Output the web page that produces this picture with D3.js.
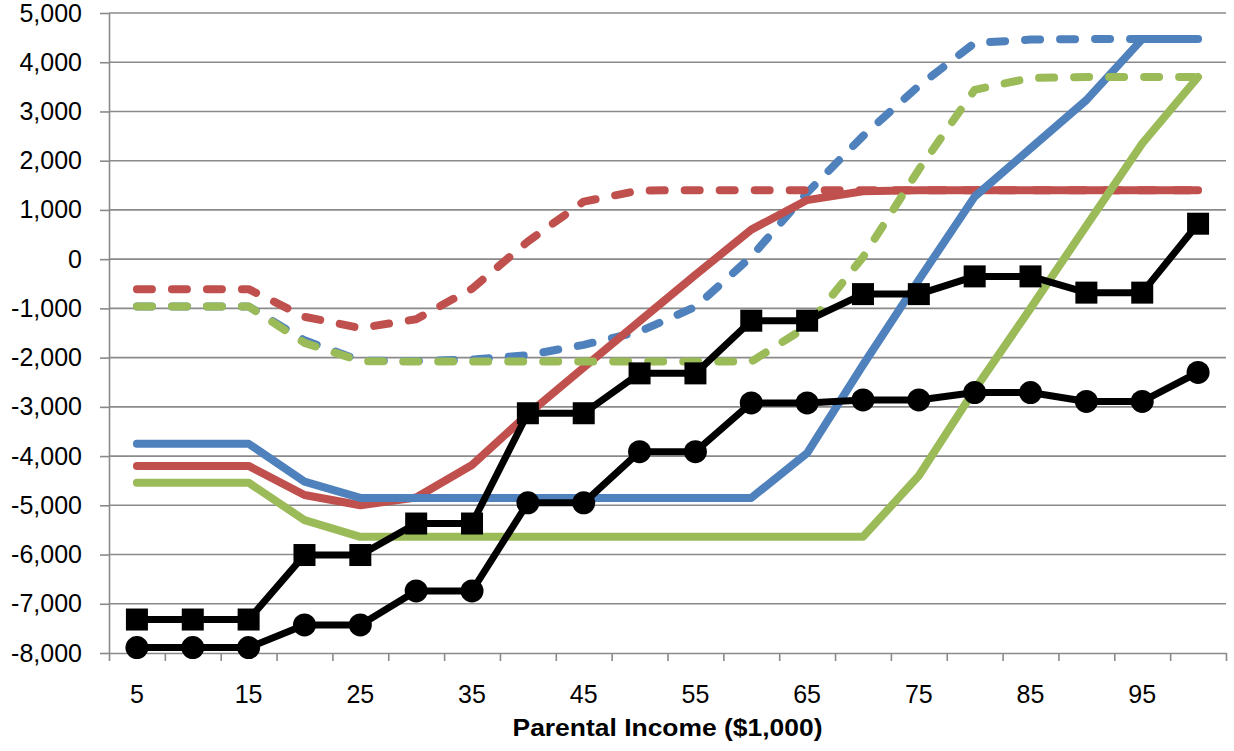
<!DOCTYPE html>
<html>
<head>
<meta charset="utf-8">
<script src="https://cdn.jsdelivr.net/npm/d3@7"></script>
<style>
    body { margin: 0; background: #fff; }
    #chart text { font-family: "Liberation Sans", Arial, sans-serif; fill: #000; }
</style>
</head>
<body>
<div id="chart"></div>
<script>
// parental income categories ($1,000)
var incomes = [5, 10, 15, 20, 25, 30, 35, 40, 45, 50, 55, 60, 65, 70, 75, 80, 85, 90, 95, 100];
var xTickLabels = [5, 15, 25, 35, 45, 55, 65, 75, 85, 95];
var yTickValues = [-8000, -7000, -6000, -5000, -4000, -3000, -2000, -1000, 0, 1000, 2000, 3000, 4000, 5000];

// series values
var blueSolid   = [-3750, -3750, -3750, -4520, -4850, -4850, -4850, -4850, -4850, -4850, -4850, -4850, -3940, -2150, -420, 1270, 2250, 3230, 4470, 4470];
var redSolid    = [-4200, -4200, -4200, -4790, -5000, -4840, -4180, -3150, -2200, -1260, -320, 600, 1200, 1380, 1400, 1400, 1400, 1400, 1400, 1400];
var greenSolid  = [-4540, -4540, -4540, -5300, -5640, -5640, -5640, -5640, -5640, -5640, -5640, -5640, -5640, -5640, -4400, -2650, -1000, 680, 2350, 3700];
var blueDashed  = [-960, -960, -960, -1650, -2060, -2070, -2040, -1950, -1740, -1470, -970, 50, 1350, 2500, 3520, 4390, 4460, 4470, 4470, 4470];
var redDashed   = [-610, -610, -610, -1170, -1400, -1220, -600, 360, 1170, 1395, 1400, 1400, 1400, 1400, 1400, 1400, 1400, 1400, 1400, 1400];
var greenDashed = [-960, -960, -960, -1700, -2070, -2080, -2080, -2080, -2080, -2080, -2080, -2080, -1370, 40, 1820, 3440, 3680, 3700, 3700, 3700];
var squareSeries = [-7320, -7320, -7320, -6010, -6010, -5370, -5370, -3130, -3130, -2320, -2320, -1250, -1250, -710, -710, -350, -350, -680, -680, 720];
var circleSeries = [-7890, -7890, -7890, -7430, -7430, -6740, -6740, -4950, -4950, -3910, -3910, -2920, -2920, -2860, -2860, -2710, -2710, -2890, -2890, -2300];

var W = 1234, H = 751;
var margin = { top: 13, right: 8, bottom: 98, left: 109 },
    width = W - margin.left - margin.right,
    height = H - margin.top - margin.bottom;

var svg = d3.select("#chart")
    .append("svg")
    .attr("width", W)
    .attr("height", H)
    .append("g")
    .attr("transform", "translate(" + margin.left + "," + margin.top + ")");

var xScale = d3.scaleBand()
    .domain(incomes)
    .range([0, width]);

var xEdges = d3.scaleLinear()
    .domain([0, incomes.length])
    .range([0, width]);

var yScale = d3.scaleLinear()
    .domain([-8000, 5000])
    .range([height, 0]);

var fmt = d3.formatLocale({ decimal: ".", thousands: ",", grouping: [3], currency: ["$", ""], minus: "-" }).format(",");

// gridlines
svg.append("g")
    .attr("class", "grid")
    .selectAll("line")
    .data(yTickValues.filter(function (d) { return d != -8000; }))
    .enter()
    .append("line")
    .attr("x1", 0)
    .attr("x2", width)
    .attr("y1", function (d) { return yScale(d); })
    .attr("y2", function (d) { return yScale(d); })
    .attr("stroke", "#8a8a8a")
    .attr("stroke-width", 1.6);

// y axis
var yAxis = svg.append("g")
    .attr("class", "y axis")
    .call(d3.axisLeft(yScale)
        .tickValues(yTickValues)
        .tickFormat(fmt)
        .tickSize(9)
        .tickSizeOuter(0)
        .tickPadding(18));

// x axis tick marks at category edges
var xAxis = svg.append("g")
    .attr("class", "x axis")
    .attr("transform", "translate(0," + height + ")")
    .call(d3.axisBottom(xEdges)
        .tickValues(d3.range(incomes.length + 1))
        .tickFormat("")
        .tickSize(8)
        .tickSizeOuter(0));

// x labels at category centres
svg.append("g")
    .attr("class", "x labels")
    .attr("transform", "translate(0," + height + ")")
    .call(d3.axisBottom(xScale)
        .tickValues(xTickLabels)
        .tickSize(0)
        .tickPadding(32))
    .call(function (g) { g.select(".domain").remove(); });

svg.selectAll(".axis path, .axis line")
    .attr("stroke", "#8a8a8a")
    .attr("stroke-width", 1.6);
svg.selectAll(".axis text, .labels text")
    .style("font-size", "25px");

// axis title
svg.append("text")
    .attr("x", width / 2)
    .attr("y", 736 - margin.top)
    .attr("text-anchor", "middle")
    .attr("textLength", 310)
    .attr("lengthAdjust", "spacingAndGlyphs")
    .style("font-size", "24px")
    .style("font-weight", "bold")
    .text("Parental Income ($1,000)");

var line = d3.line()
    .x(function (d, i) { return xScale(incomes[i]) + xScale.bandwidth() / 2; })
    .y(function (d) { return yScale(d); });

var series = [
    { values: blueDashed, color: "#4F81BD", dash: "15,20" },
    { values: redDashed, color: "#C0504D", dash: "15,20" },
    { values: redSolid, color: "#C0504D", dash: null },
    { values: blueSolid, color: "#4F81BD", dash: null },
    { values: greenSolid, color: "#9BBB59", dash: null },
    { values: greenDashed, color: "#9BBB59", dash: "15,20" },
    { values: squareSeries, color: "#000", dash: null, marker: "square" },
    { values: circleSeries, color: "#000", dash: null, marker: "circle" }
];

series.forEach(function (s) {
    svg.append("path")
        .datum(s.values)
        .attr("fill", "none")
        .attr("stroke", s.color)
        .attr("stroke-width", s.marker ? 7 : 8)
        .attr("stroke-linejoin", "round")
        .attr("stroke-linecap", "round")
        .attr("stroke-dasharray", s.dash)
        .attr("d", line);

    if (s.marker == "square") {
        svg.selectAll(".sq")
            .data(s.values)
            .enter()
            .append("rect")
            .attr("x", function (d, i) { return xScale(incomes[i]) + xScale.bandwidth() / 2 - 11; })
            .attr("y", function (d) { return yScale(d) - 11; })
            .attr("width", 22)
            .attr("height", 22)
            .attr("fill", "#000");
    } else if (s.marker == "circle") {
        svg.selectAll(".dot")
            .data(s.values)
            .enter()
            .append("circle")
            .attr("cx", function (d, i) { return xScale(incomes[i]) + xScale.bandwidth() / 2; })
            .attr("cy", function (d) { return yScale(d); })
            .attr("r", 11.5)
            .attr("fill", "#000");
    }
});
</script>
</body>
</html>
